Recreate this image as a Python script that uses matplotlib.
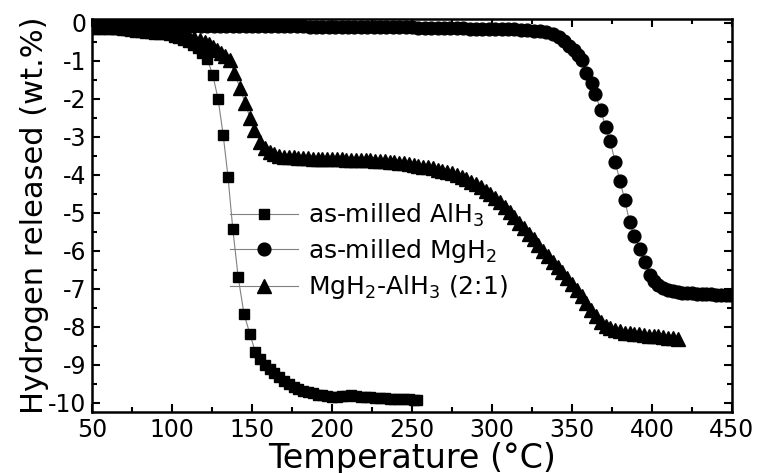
import matplotlib
matplotlib.use("Agg")
import matplotlib.pyplot as plt
from matplotlib.ticker import MultipleLocator

plt.rcParams['font.family'] = ['DejaVu Sans']
plt.rcParams['mathtext.fontset'] = 'dejavusans'

# as-milled AlH3 (squares)
t_alh3 = [50, 53, 56, 59, 62, 65, 68, 71, 74, 77, 80, 83, 86, 89, 92, 95, 98,
          101, 104, 107, 110, 113, 116, 119, 122, 125.5, 128.8, 132, 135, 138,
          141.4, 145, 148.8, 152, 155, 158, 161, 164, 167, 170, 173, 176, 179,
          182, 185, 188, 191, 194, 197, 200, 203, 206, 209, 212, 215, 218, 221,
          224, 227, 230, 233, 236, 239, 242, 245, 248, 251, 253]
h_alh3 = [-0.13, -0.13, -0.13, -0.14, -0.14, -0.15, -0.16, -0.18, -0.2, -0.23,
          -0.25, -0.26, -0.27, -0.28, -0.29, -0.3, -0.33, -0.37, -0.41, -0.45,
          -0.5, -0.58, -0.66, -0.8, -0.95, -1.37, -2.0, -2.95, -4.05, -5.42,
          -6.7, -7.66, -8.2, -8.65, -8.85, -9.0, -9.12, -9.22, -9.32, -9.42,
          -9.5, -9.57, -9.63, -9.68, -9.72, -9.75, -9.78, -9.8, -9.82, -9.84,
          -9.84, -9.83, -9.81, -9.8, -9.82, -9.84, -9.85, -9.85, -9.86, -9.87,
          -9.88, -9.89, -9.89, -9.9, -9.9, -9.91, -9.92, -9.92]

# as-milled MgH2 (circles)
t_mgh2 = [50, 54, 58, 62, 66, 70, 74, 78, 82, 86, 90, 94, 98, 102, 106, 110,
          114, 118, 122, 126, 130, 134, 138, 142, 146, 150, 154, 158, 162, 166,
          170, 174, 178, 182, 186, 190, 194, 198, 202, 206, 210, 214, 218, 222,
          226, 230, 234, 238, 242, 246, 250, 254, 258, 262, 266, 270, 274, 278,
          282, 286, 290, 294, 298, 302, 306, 310, 314, 318, 322, 326, 330, 334,
          338, 342, 345, 348, 351, 354, 356.3, 358.8, 362.5, 364.5, 368, 371,
          373.8, 377, 380, 383, 386, 389, 392.5, 395.6, 398.8, 401.5, 404, 407,
          410, 413, 416, 419, 422, 425, 428, 431, 434, 437, 440, 443, 446, 449]
h_mgh2 = [-0.05, -0.05, -0.05, -0.05, -0.05, -0.05, -0.06, -0.06, -0.06, -0.06,
          -0.06, -0.06, -0.07, -0.07, -0.07, -0.07, -0.07, -0.08, -0.08, -0.08,
          -0.08, -0.08, -0.08, -0.08, -0.08, -0.08, -0.08, -0.08, -0.09, -0.09,
          -0.09, -0.09, -0.09, -0.09, -0.1, -0.1, -0.1, -0.1, -0.1, -0.1,
          -0.1, -0.11, -0.11, -0.11, -0.11, -0.11, -0.12, -0.12, -0.12, -0.12,
          -0.12, -0.13, -0.13, -0.13, -0.13, -0.14, -0.14, -0.14, -0.14, -0.15,
          -0.15, -0.15, -0.16, -0.16, -0.16, -0.17, -0.17, -0.18, -0.19, -0.2,
          -0.22, -0.25, -0.3, -0.38, -0.48, -0.6, -0.72, -0.85, -0.97, -1.32,
          -1.58, -1.87, -2.29, -2.74, -3.1, -3.66, -4.16, -4.66, -5.24, -5.6,
          -5.95, -6.3, -6.63, -6.8, -6.9, -6.97, -7.02, -7.06, -7.08, -7.1,
          -7.11, -7.12, -7.13, -7.13, -7.14, -7.14, -7.15, -7.15, -7.16, -7.16]

# MgH2-AlH3 (2:1) (triangles)
t_mix = [50, 54, 58, 62, 66, 70, 74, 78, 82, 86, 90, 94, 98, 102, 106, 110, 114,
         117.5, 120.6, 123, 125.6, 128, 130.5, 133, 136, 139, 142.5, 145.6,
         148.8, 151.5, 155, 158, 161, 164, 167, 170, 173, 176, 179, 182, 185,
         188, 191, 194, 197, 200, 203, 206, 209, 212, 215, 218, 221, 224, 227,
         230, 233, 236, 239, 242, 245, 248, 251, 254, 257, 260, 263, 266, 269,
         272, 275, 278, 281, 284, 287, 290, 293, 296, 299, 302, 305, 308, 311,
         314, 317, 320, 323, 326, 329, 332, 335, 338, 341, 344, 347, 350, 353,
         356, 359, 362, 365, 368, 371, 374, 377, 380, 383, 386, 389, 392, 395,
         398, 401, 404, 407, 410, 413, 416]
h_mix = [-0.1, -0.1, -0.11, -0.11, -0.12, -0.13, -0.14, -0.15, -0.16, -0.17,
         -0.19, -0.2, -0.22, -0.25, -0.28, -0.33, -0.4, -0.45, -0.5, -0.56,
         -0.63, -0.7, -0.78, -0.86, -0.97, -1.32, -1.71, -2.1, -2.5, -2.82,
         -3.13, -3.3, -3.4, -3.46, -3.5, -3.52, -3.53, -3.54, -3.55, -3.56,
         -3.56, -3.57, -3.57, -3.58, -3.58, -3.58, -3.59, -3.59, -3.6, -3.6,
         -3.61, -3.61, -3.62, -3.62, -3.63, -3.63, -3.64, -3.66, -3.67, -3.69,
         -3.7, -3.72, -3.74, -3.76, -3.78, -3.8, -3.83, -3.86, -3.89, -3.92,
         -3.96, -4.0, -4.05, -4.11, -4.18, -4.25, -4.33, -4.42, -4.51, -4.6,
         -4.72, -4.84, -4.98, -5.12, -5.26, -5.4, -5.55, -5.7, -5.85, -6.0,
         -6.14, -6.28, -6.42, -6.56, -6.72, -6.86, -7.02, -7.2, -7.38, -7.55,
         -7.72, -7.87, -7.97, -8.04, -8.09, -8.12, -8.15, -8.17, -8.19, -8.2,
         -8.21, -8.23, -8.24, -8.25, -8.27, -8.28, -8.29, -8.31]

labels = ["as-milled AlH$_3$", "as-milled MgH$_2$", "MgH$_2$-AlH$_3$ (2:1)"]

fig = plt.figure(figsize=(7.59, 4.73), dpi=100)
ax = fig.add_axes([0.1212, 0.129, 0.8432, 0.831])

line_kw = dict(color='gray', lw=0.8, mfc='black', mec='black')
ax.plot(t_alh3, h_alh3, marker='s', ms=7.8, label=labels[0], **line_kw)
ax.plot(t_mgh2, h_mgh2, marker='o', ms=9.2, label=labels[1], **line_kw)
ax.plot(t_mix, h_mix, marker='^', ms=9.5, label=labels[2], **line_kw)

ax.set_xlim(50, 450)
ax.set_ylim(-10.24, 0.105)
ax.xaxis.set_major_locator(MultipleLocator(50))
ax.xaxis.set_minor_locator(MultipleLocator(25))
ax.yaxis.set_major_locator(MultipleLocator(1))
ax.yaxis.set_minor_locator(MultipleLocator(0.5))
ax.yaxis.set_major_formatter(plt.FuncFormatter(lambda v, p: "%d" % v))
ax.tick_params(which='both', direction='in', top=True, right=True, width=1.5)
ax.tick_params(which='major', length=6, labelsize=17, pad=4)
ax.tick_params(which='minor', length=3.5)
for s in ax.spines.values():
    s.set_linewidth(1.8)

ax.set_xlabel("Temperature (\u00b0C)", fontsize=24, labelpad=0)
ax.set_ylabel("Hydrogen released (wt.%)", fontsize=22, labelpad=-1)

ax.legend(loc='upper left', bbox_to_anchor=(0.215, 0.535), frameon=False,
          fontsize=18, handlelength=2.75, handletextpad=0.4, labelspacing=0.33,
          borderpad=0, borderaxespad=0)

fig.savefig("out.png", dpi=100)
